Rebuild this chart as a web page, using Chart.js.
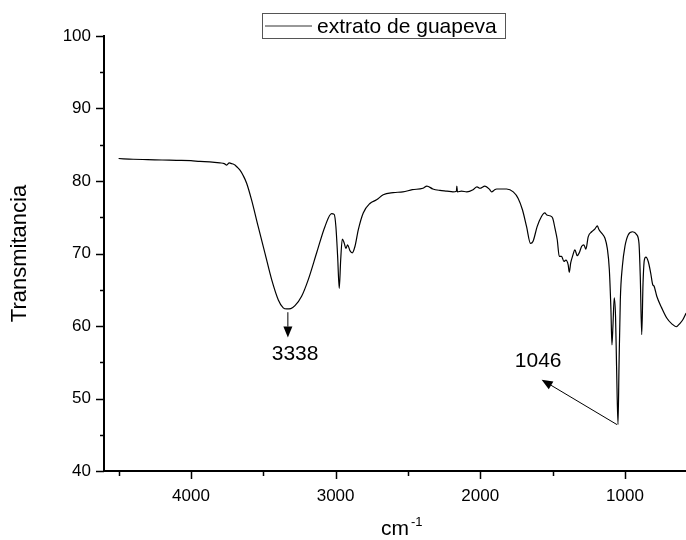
<!DOCTYPE html>
<html>
<head>
<meta charset="utf-8">
<script src="https://cdn.jsdelivr.net/npm/chart.js@4.4.1/dist/chart.umd.min.js"></script>
<style>
  body { margin: 0; background: #fff; }
  canvas { display: block; }
</style>
</head>
<body>
<canvas id="chartFTIR" width="686" height="540"></canvas>
<script>
// Espectro FTIR - extrato de guapeva
const numeroOnda = [
  4500, 4400, 4300, 4200, 4100, 4000, 3938, 3870, 3800, 3770, 3753, 3735, 3719, 3705, 3696, 3680,
  3661, 3640, 3615, 3581, 3535, 3489, 3442, 3396, 3362, 3338, 3310, 3281, 3235, 3189, 3131, 3074,
  3028, 3010, 2998, 2986, 2975, 2965, 2954, 2940, 2929, 2917, 2901, 2885, 2866, 2843, 2809, 2763,
  2717, 2671, 2602, 2535, 2470, 2397, 2369, 2328, 2279, 2230, 2189, 2165, 2162, 2158, 2130, 2093,
  2050, 2023, 2003, 1968, 1934, 1922, 1900, 1887, 1818, 1772, 1738, 1708, 1680, 1653, 1635, 1607,
  1577, 1554, 1540, 1519, 1500, 1484, 1468, 1454, 1438, 1422, 1408, 1392, 1385, 1375, 1361, 1346,
  1330, 1316, 1299, 1284, 1270, 1254, 1230, 1207, 1191, 1180, 1161, 1138, 1122, 1108, 1097, 1090,
  1083, 1074, 1065, 1058, 1048, 1041, 1032, 1018, 1000, 977, 947, 919, 903, 894, 884, 875,
  866, 855, 839, 822, 808, 799, 780, 746, 711, 676, 646, 618, 599, 577
];
const transmitancia = [
  83.1, 83.0, 82.95, 82.9, 82.85, 82.8, 82.7, 82.65, 82.5, 82.4, 82.2, 82.5, 82.4, 82.3, 82.2, 81.9,
  81.5, 80.8, 79.7, 77.4, 73.7, 70.1, 66.4, 63.6, 62.5, 62.35, 62.4, 62.8, 64.1, 66.4, 70.1, 73.7,
  75.5, 75.4, 73.7, 69.6, 65.2, 69.1, 72.0, 71.4, 70.7, 71.2, 70.4, 70.1, 71.0, 73.3, 75.6, 76.9,
  77.4, 78.1, 78.4, 78.5, 78.8, 79.0, 79.3, 78.9, 78.7, 78.6, 78.5, 78.6, 79.3, 78.5, 78.6, 78.5,
  78.8, 79.2, 79.0, 79.3, 78.8, 78.5, 78.8, 78.9, 78.9, 78.5, 77.6, 76.0, 73.7, 71.4, 71.7, 73.7,
  75.1, 75.6, 75.3, 75.2, 74.9, 73.5, 71.9, 69.6, 69.6, 68.9, 69.1, 68.4, 67.4, 68.7, 69.7, 70.5,
  69.7, 70.1, 71.0, 71.2, 70.6, 72.3, 73.0, 73.4, 73.8, 73.3, 72.8, 72.1, 70.7, 67.8, 62.3, 57.4,
  60.0, 63.9, 61.3, 54.5, 46.4, 54.5, 63.6, 68.2, 71.0, 72.6, 73.0, 72.6, 71.4, 66.8, 58.8, 65.9,
  69.1, 69.5, 68.9, 67.3, 65.7, 65.5, 64.1, 62.5, 61.1, 60.3, 59.9, 60.4, 60.9, 61.8
];

// marcas do eixo x (com rótulo só nos milhares)
const marcasX = [4500, 4000, 3500, 3000, 2500, 2000, 1500, 1000];

// rótulos das bandas: [posição do texto x, y], seta [de x, y] -> [até x, y]
const bandas = [
  { texto: "3338", rotulo: [3280, 56.1], de: [3330, 61.9], ate: [3330, 58.4] },
  { texto: "1046", rotulo: [1600, 55.2], de: [1055, 46.4], ate: [1576, 52.6] },
];

const pontos = numeroOnda.map((x, i) => ({ x: x, y: transmitancia[i] }));
const fonte = "'Liberation Sans', Arial, sans-serif";
Chart.defaults.font.family = fonte;
Chart.defaults.color = "#000";

const extras = {
  id: "extras",
  afterDraw(chart) {
    const { ctx, chartArea, scales } = chart;
    const xs = scales.x, ys = scales.y;
    ctx.save();
    ctx.strokeStyle = "#000";
    ctx.lineWidth = 1.5;
    // marcas dos eixos
    ctx.beginPath();
    xs.ticks.forEach((t) => {
      const px = Math.round(xs.getPixelForValue(t.value)) + 0.5;
      const len = t.value % 1000 === 0 ? 8 : 5;
      ctx.moveTo(px, chartArea.bottom);
      ctx.lineTo(px, chartArea.bottom + len);
    });
    ys.ticks.forEach((t) => {
      const py = Math.round(ys.getPixelForValue(t.value)) + 0.5;
      const len = t.value % 10 === 0 ? 8 : 4;
      ctx.moveTo(chartArea.left, py);
      ctx.lineTo(chartArea.left - len, py);
    });
    ctx.stroke();

    // setas e rótulos
    ctx.lineWidth = 1;
    ctx.fillStyle = "#000";
    bandas.forEach((b) => {
      const x1 = xs.getPixelForValue(b.de[0]), y1 = ys.getPixelForValue(b.de[1]);
      const x2 = xs.getPixelForValue(b.ate[0]), y2 = ys.getPixelForValue(b.ate[1]);
      const ang = Math.atan2(y2 - y1, x2 - x1);
      const hl = 11, hw = 4.5;
      const bx = x2 - hl * Math.cos(ang), by = y2 - hl * Math.sin(ang);
      ctx.beginPath();
      ctx.moveTo(x1, y1);
      ctx.lineTo(bx, by);
      ctx.stroke();
      ctx.beginPath();
      ctx.moveTo(x2, y2);
      ctx.lineTo(bx + hw * Math.sin(ang), by - hw * Math.cos(ang));
      ctx.lineTo(bx - hw * Math.sin(ang), by + hw * Math.cos(ang));
      ctx.closePath();
      ctx.fill();
      ctx.font = "21px " + fonte;
      ctx.textAlign = "center";
      ctx.textBaseline = "middle";
      ctx.fillText(b.texto, xs.getPixelForValue(b.rotulo[0]), ys.getPixelForValue(b.rotulo[1]));
    });

    // legenda
    ctx.strokeStyle = "#555";
    ctx.lineWidth = 1;
    ctx.strokeRect(262.5, 13.5, 243, 25);
    ctx.strokeStyle = "#333";
    ctx.lineWidth = 1.2;
    ctx.beginPath();
    ctx.moveTo(265, 26);
    ctx.lineTo(312, 26);
    ctx.stroke();
    ctx.font = "21px " + fonte;
    ctx.textAlign = "left";
    ctx.textBaseline = "middle";
    ctx.fillText("extrato de guapeva", 317, 27);

    // expoente do título do eixo x
    ctx.font = "21px " + fonte;
    const wcm = ctx.measureText("cm").width;
    const cx = (chartArea.left + chartArea.right) / 2;
    ctx.font = "13px " + fonte;
    ctx.textAlign = "left";
    ctx.fillText("-1", cx + wcm / 2 + 2, 522);
    ctx.restore();
  },
};

new Chart(document.getElementById("chartFTIR"), {
  type: "scatter",
  data: {
    datasets: [
      {
        label: "extrato de guapeva",
        data: pontos,
        showLine: true,
        borderColor: "#000",
        borderWidth: 1.2,
        pointRadius: 0,
        cubicInterpolationMode: "monotone",
      },
    ],
  },
  options: {
    responsive: false,
    animation: false,
    layout: { padding: { top: 36, right: 0, left: 0, bottom: 0 } },
    plugins: { legend: { display: false }, tooltip: { enabled: false } },
    scales: {
      x: {
        type: "linear",
        reverse: true,
        min: 578,
        max: 4601,
        afterBuildTicks: (s) => { s.ticks = marcasX.map((v) => ({ value: v })); },
        afterFit: (s) => { s.height = 69; },
        border: { color: "#000", width: 2 },
        grid: { drawOnChartArea: false, tickLength: 8, tickColor: "rgba(0,0,0,0)" },
        ticks: {
          padding: 7,
          font: { size: 17 },
          callback: (v) => (v % 1000 === 0 ? v : ""),
        },
        title: {
          display: true,
          text: "cm",
          font: { size: 21, lineHeight: 1 },
          padding: { top: 0, bottom: 0 },
        },
      },
      y: {
        min: 40,
        max: 100,
        afterFit: (s) => { s.width = 104; },
        border: { color: "#000", width: 2 },
        grid: { drawOnChartArea: false, tickLength: 8, tickColor: "rgba(0,0,0,0)" },
        ticks: {
          stepSize: 5,
          padding: 5,
          font: { size: 17 },
          callback: (v) => (v % 10 === 0 ? v : ""),
        },
        title: {
          display: true,
          text: "Transmitancia",
          font: { size: 22, lineHeight: 1.2 },
          padding: { top: 7, bottom: 0 },
        },
      },
    },
  },
  plugins: [extras],
});
</script>
</body>
</html>
